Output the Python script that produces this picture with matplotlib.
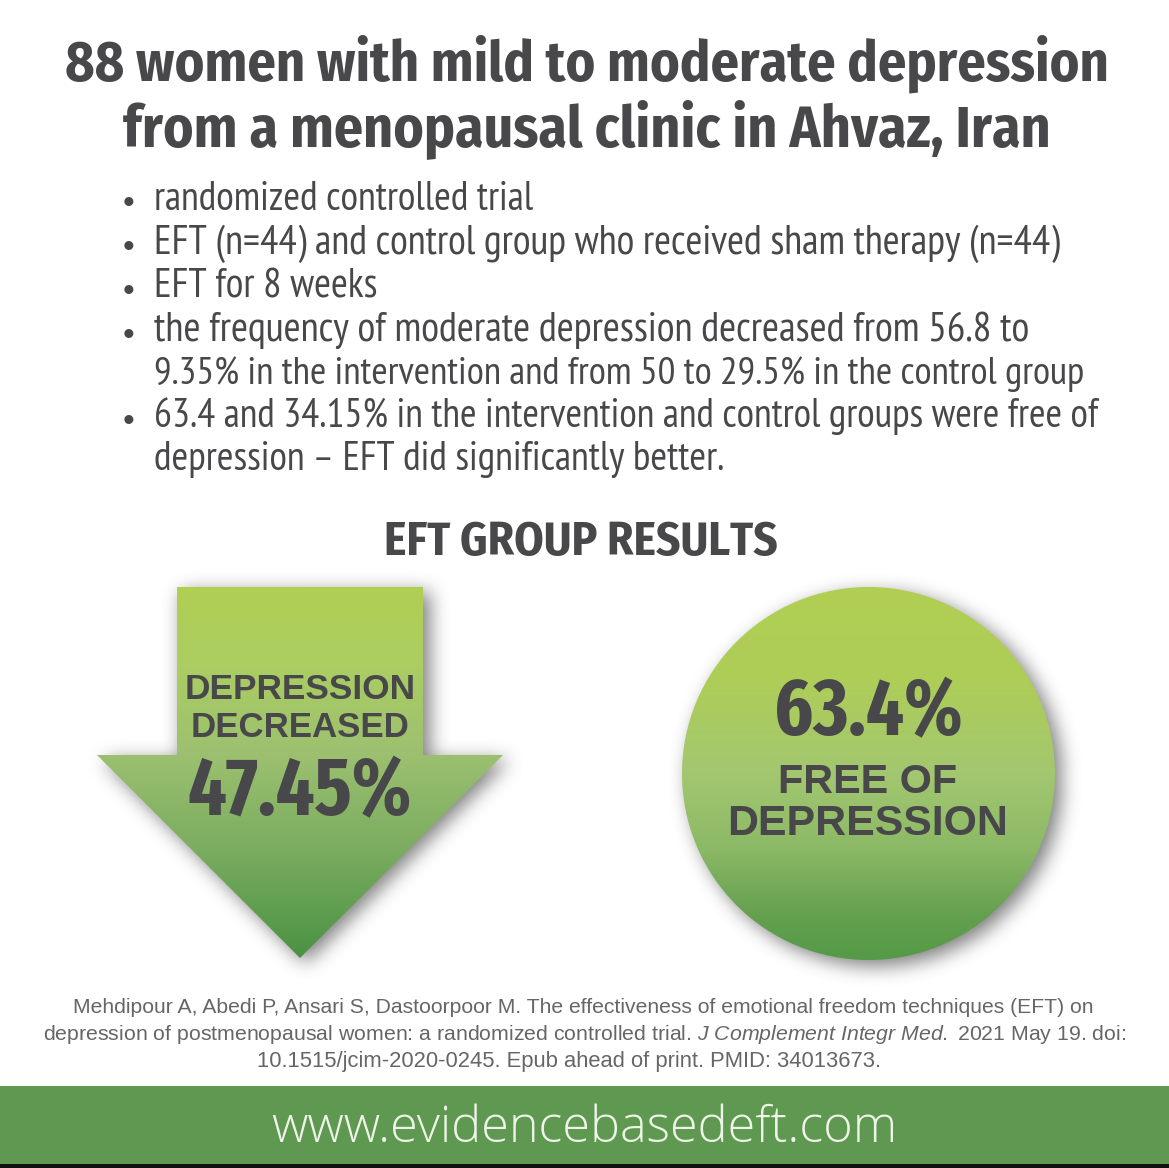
import numpy as np
import matplotlib
matplotlib.use('Agg')
import matplotlib.pyplot as plt
from matplotlib.path import Path
from matplotlib.patches import PathPatch, Circle, Rectangle
from matplotlib import font_manager

# Тексты
title_lines = ['88 women with mild to moderate depression', 'from a menopausal clinic in Ahvaz, Iran']
bullet_lines = [
    'randomized controlled trial',
    'EFT (n=44) and control group who received sham therapy (n=44)',
    'EFT for 8 weeks',
    'the frequency of moderate depression decreased from 56.8 to',
    '9.35% in the intervention and from 50 to 29.5% in the control group',
    '63.4 and 34.15% in the intervention and control groups were free of',
    'depression – EFT did significantly better.',
]
has_bullet = [True, True, True, True, False, True, False]
subtitle = 'EFT GROUP RESULTS'
arrow_labels = ['DEPRESSION', 'DECREASED', '47.45%']
circle_labels = ['63.4%', 'FREE OF', 'DEPRESSION']
ref_lines = [
    'Mehdipour A, Abedi P, Ansari S, Dastoorpoor M. The effectiveness of emotional freedom techniques (EFT) on',
    'depression of postmenopausal women: a randomized controlled trial. $\\mathit{J\\ Complement\\ Integr\\ Med.}$ 2021 May 19. doi:',
    '10.1515/jcim-2020-0245. Epub ahead of print. PMID: 34013673.',
]
url = 'www.evidencebasedeft.com'

names = {f.name for f in font_manager.fontManager.ttflist}


def pick(*fams):
    for n in fams:
        if n in names:
            return n
    return 'Liberation Sans'


narrow = pick('PT Sans Narrow', 'Liberation Sans Narrow')
head_font = pick('Fira Sans Condensed', 'PT Sans Narrow')
num_font = pick('Fira Sans Extra Condensed', 'PT Sans Narrow')

plt.rcParams['mathtext.fontset'] = 'custom'
plt.rcParams['mathtext.it'] = 'Liberation Sans:italic'
plt.rcParams['mathtext.rm'] = 'Liberation Sans'

W, H = 1169, 1168
DARK = '#48484a'

fig = plt.figure(figsize=(W / 100, H / 100), dpi=100)
ax = fig.add_axes([0, 0, 1, 1])
ax.set_xlim(0, W)
ax.set_ylim(H, 0)
ax.axis('off')


def fit_text(x, y, s, width, ha='center', family=narrow, **kw):
    # Подбираем размер шрифта под ширину строки в пикселях
    t = ax.text(x, y, s, ha=ha, va='baseline', family=family, fontsize=20, **kw)
    w = t.get_window_extent(fig.canvas.get_renderer()).width
    t.set_fontsize(20 * width / w)
    return t


def gradient(stops):
    pos = np.linspace(0, 1, 256)
    rgb = [np.interp(pos, [s[0] for s in stops], [matplotlib.colors.to_rgb(s[1])[i] for s in stops]) for i in range(3)]
    return np.dstack(rgb).reshape(256, 1, 3)


def blur(a, n):
    k = np.ones(n) / n
    for _ in range(3):
        a = np.apply_along_axis(lambda m: np.convolve(m, k, mode='same'), 0, a)
        a = np.apply_along_axis(lambda m: np.convolve(m, k, mode='same'), 1, a)
    return a


def shadow(path, box, dx, dy, n=7, alpha=0.8):
    # Размытая тень от фигуры
    x0, x1, y0, y1 = box
    xx, yy = np.meshgrid(np.arange(x0, x1, 2), np.arange(y0, y1, 2))
    pts = np.column_stack([xx.ravel() - dx, yy.ravel() - dy])
    m = path.contains_points(pts).reshape(xx.shape).astype(float)
    m = blur(m, n)
    img = np.zeros(m.shape + (4,))
    img[..., :3] = 0.33
    img[..., 3] = m * alpha
    ax.imshow(img, extent=(x0, x1, y1, y0), aspect='auto', zorder=1, interpolation='bilinear')


# Заголовок
fit_text(587, 80, title_lines[0], 1045, family=head_font, fontweight='bold', color=DARK)
fit_text(587, 146, title_lines[1], 928, family=head_font, fontweight='bold', color=DARK)

# Список
widths = [379, 904, 223, 876, 931, 944, 569]
for i, y in enumerate([210, 254, 298, 341, 384, 427, 470]):
    if has_bullet[i]:
        ax.text(128, y - 5, '•', ha='center', va='center', family='Liberation Sans', fontsize=24, color=DARK)
    fit_text(154, y, bullet_lines[i], widths[i], ha='left', color=DARK)

fit_text(581, 555, subtitle, 393, family=head_font, fontweight='bold', color=DARK)

# Стрелка
arrow_pts = [(177, 587), (423, 587), (423, 755), (503, 755), (300, 958), (97, 755), (177, 755), (177, 587)]
arrow_path = Path(arrow_pts, closed=True)
shadow(arrow_path, (60, 550, 550, 1000), 5, 4, n=9, alpha=0.75)
arrow_stops = [(0, '#b1cf52'), (0.2, '#acce62'), (0.45, '#9cc070'), (0.7, '#7cad60'), (1, '#4b9243')]
im = ax.imshow(gradient(arrow_stops), extent=(97, 503, 958, 587), aspect='auto', zorder=2)
im.set_clip_path(PathPatch(arrow_path, transform=ax.transData))

# Круг
cx, cy, r = 868.5, 773.5, 186.5
circle_path = Path.circle((cx, cy), r)
shadow(circle_path, (645, 1095, 550, 1000), 6, 5, n=9, alpha=0.75)
circle_stops = [(0, '#b1cf52'), (0.25, '#aecd58'), (0.5, '#a3c770'), (0.7, '#8cb966'), (0.88, '#64a04e'), (1, '#559a48')]
im2 = ax.imshow(gradient(circle_stops), extent=(cx - r, cx + r, cy + r, cy - r), aspect='auto', zorder=2)
im2.set_clip_path(Circle((cx, cy), r, transform=ax.transData))

ax.set_xlim(0, W)
ax.set_ylim(H, 0)

# Подписи на фигурах
fit_text(300, 699, arrow_labels[0], 231, family='Liberation Sans', fontweight='bold', color=DARK, zorder=3)
fit_text(300, 737, arrow_labels[1], 219, family='Liberation Sans', fontweight='bold', color=DARK, zorder=3)
fit_text(300, 815, arrow_labels[2], 225, family=num_font, fontweight='bold', color=DARK, zorder=3)
fit_text(868, 735, circle_labels[0], 189, family=num_font, fontweight='bold', color=DARK, zorder=3)
fit_text(868, 793, circle_labels[1], 179, family='Liberation Sans', fontweight='bold', color=DARK, zorder=3)
fit_text(868, 835, circle_labels[2], 281, family='Liberation Sans', fontweight='bold', color=DARK, zorder=3)

# Ссылка
for s, x, y, w in zip(ref_lines, [583.5, 584.5, 569], [1013, 1040, 1067], [1019, 1083, 625]):
    fit_text(x, y, s, w, family='Liberation Sans', color='#666668')

# Нижняя полоса
ax.add_patch(Rectangle((0, 1086), W, 78, color='#5f9850', lw=0, zorder=1))
ax.add_patch(Rectangle((0, 1164), W, 4, color='#111111', lw=0, zorder=1))
fit_text(584.5, 1142, url, 628, family='Open Sans', fontweight='light', color='#eef5e8', zorder=3)

fig.savefig('out.png', dpi=100, facecolor='white')
